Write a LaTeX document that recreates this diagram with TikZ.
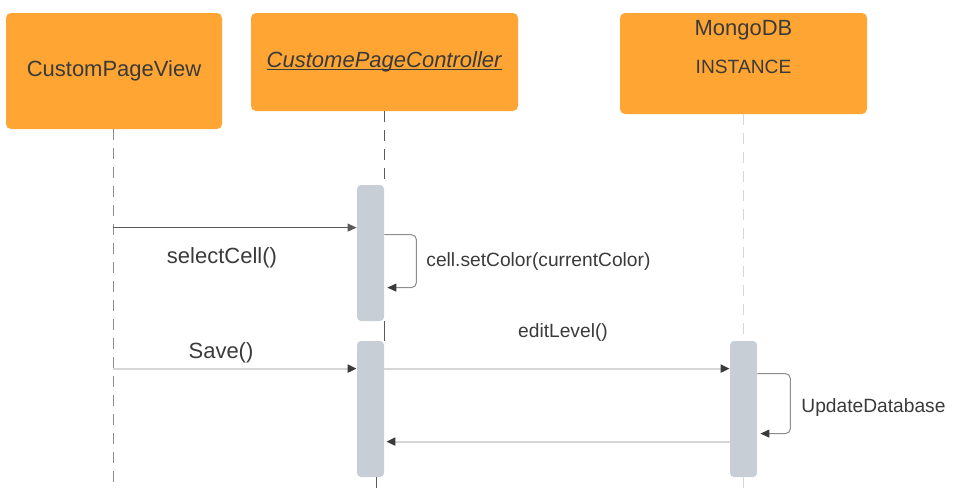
\documentclass[tikz,border=0pt]{standalone}
\usepackage{fontspec}
\setmainfont{Liberation Sans}
\usetikzlibrary{arrows.meta,calc,positioning}

\definecolor{boxorange}{HTML}{FFA534}
\definecolor{bargray}{HTML}{C8CED6}
\definecolor{txtgray}{HTML}{3A3A3A}
\definecolor{linedark}{HTML}{5A5A5A}
\definecolor{linelight}{HTML}{D6D6D6}
\definecolor{loopgray}{HTML}{8C8C8C}

\newcommand\uline[1]{\setbox0\hbox{#1}\rlap{\rule[-1.4pt]{\wd0}{0.6pt}}\box0}

\tikzset{
  actor/.style={fill=boxorange, rounded corners=2.5pt, text=txtgray, font=\fontsize{11}{13}\selectfont},
  actbar/.style={fill=bargray, rounded corners=2pt, minimum width=13.5pt, inner sep=0pt},
  lifeline/.style={dash pattern=on 5.5pt off 4pt, line width=0.5pt},
  tip/.style={-{Triangle[length=4.5pt,width=4pt]}},
  call/.style={tip, draw=linedark, line width=0.5pt},
  msg/.style={tip, draw=linelight, line width=1pt, arrows={-{Triangle[length=4.5pt,width=4pt,color=txtgray]}}},
  selfloop/.style={tip, draw=loopgray, line width=0.5pt, rounded corners=2.5pt,
    arrows={-{Triangle[length=4.5pt,width=4pt,color=txtgray]}}},
  biglabel/.style={text=txtgray, font=\fontsize{11}{13}\selectfont, inner sep=1pt},
  smalllabel/.style={text=txtgray, font=\fontsize{9.6}{11}\selectfont, inner sep=1pt}
}

\begin{document}
\begin{tikzpicture}[x=0.5pt, y=-0.5pt]
  \useasboundingbox (0,0) rectangle (962,488);

  % participants
  \node[actor, minimum width=108pt, minimum height=58pt] (view) at (114,71) {CustomPageView};
  \node[actor, minimum width=133.5pt, minimum height=49pt] (ctrl) at (384.5,62) {\uline{\textit{CustomePageController}}};
  \node[actor, minimum width=123.5pt, minimum height=50.5pt] (db) at (743.5,63.5) {};
  \node[biglabel] (dbname) at (743.5,30) {MongoDB};
  \node[smalllabel] (dbkind) at (743.5,67) {INSTANCE};

  % activation bars
  \node[actbar, minimum height=68pt] (act1) at (370.5,253) {};
  \node[actbar, minimum height=68pt] (act2) at (370.5,409) {};
  \node[actbar, minimum height=68pt] (act3) at (743.5,409) {};

  % lifelines
  \coordinate (viewend) at (113,488);
  \coordinate (ctrlend) at (376,488);
  \coordinate (dbend) at (743.5,488);
  \draw[lifeline, draw=loopgray] (viewend |- view.south) -- (viewend);
  \draw[lifeline, draw=linedark] (act1.north east |- ctrl.south) -- (act1.north east);
  \draw[draw=linedark, line width=0.5pt] (act1.south east) -- (act2.north east);
  \draw[lifeline, draw=linedark] (ctrlend |- act2.south) -- (ctrlend);
  \draw[lifeline, draw=linelight, line width=0.8pt] (db.south) -- (act3.north);
  \draw[lifeline, draw=linelight, line width=0.8pt] (act3.south) -- (dbend);

  % messages
  \coordinate (m1) at ($(act1.north west)+(0,43)$);
  \draw[call] (viewend |- m1) -- (m1);
  \node[biglabel] (lbl1) at (222,258) {selectCell()};

  \draw[selfloop] ($(act1.north east)+(0,50)$) -- ++(32,0) -- ++(0,53) -- ++(-29,0);
  \node[smalllabel, anchor=west] (lbl2) at (424,262) {cell.setColor(currentColor)};

  \coordinate (m2) at ($(act2.north west)+(0,28)$);
  \draw[msg] (viewend |- m2) -- (m2);
  \node[biglabel] (lbl3) at (221,353) {Save()};

  \draw[msg] ($(act2.north east)+(0,28)$) -- ($(act3.north west)+(0,28)$);
  \node[smalllabel] (lbl4) at (563,333) {editLevel()};

  \draw[selfloop] ($(act3.north east)+(0,33)$) -- ++(33,0) -- ++(0,60) -- ++(-30,0);
  \node[smalllabel, anchor=west] (lbl5) at (799,408) {UpdateDatabase};

  \draw[msg] ($(act3.north west)+(0,101)$) -- ($(act2.north east)+(2,101)$);
\end{tikzpicture}
\end{document}
